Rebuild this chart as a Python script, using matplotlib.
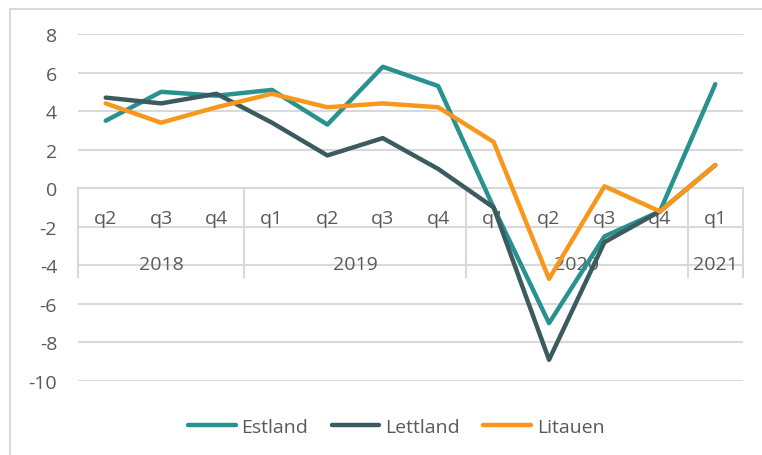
import matplotlib.pyplot as plt
from matplotlib.lines import Line2D

plt.rcParams['font.family'] = ['Open Sans', 'DejaVu Sans']
plt.rcParams['axes.unicode_minus'] = False

# data
quarters = ['q2', 'q3', 'q4', 'q1', 'q2', 'q3', 'q4', 'q1', 'q2', 'q3', 'q4', 'q1']
years = ['2018', '2019', '2020', '2021']
year_spans = [(0, 2), (3, 6), (7, 10), (11, 11)]
estland = [3.5, 5.0, 4.8, 5.1, 3.3, 6.3, 5.3, -1.0, -7.0, -2.5, -1.2, 5.4]
lettland = [4.7, 4.4, 4.9, 3.4, 1.7, 2.6, 1.0, -1.0, -8.9, -2.8, -1.2, 1.2]
litauen = [4.4, 3.4, 4.2, 4.9, 4.2, 4.4, 4.2, 2.4, -4.7, 0.1, -1.2, 1.2]

grid_col = '#d9d9d9'
txt_col = '#595959'
fs = 14

fig = plt.figure(figsize=(7.62, 4.56), dpi=100)
ax = fig.add_axes([78 / 762, 1 - 382 / 456, (743 - 78) / 762, (382 - 35) / 456])

ax.set_xlim(-0.5, len(quarters) - 0.5)
ax.set_ylim(-10, 8)
ax.set_yticks(range(-10, 9, 2))
ax.set_xticks([])
for s in ax.spines.values():
    s.set_visible(False)
ax.tick_params(axis='y', length=0, labelsize=fs, labelcolor=txt_col, pad=15)
ax.grid(axis='y', color=grid_col, lw=1.5)
ax.set_axisbelow(True)

# category axis drawn at zero
ax.axhline(0, color=grid_col, lw=1.5, zorder=1)
for xb in [-0.5, 2.5, 6.5, 10.5, 11.5]:
    ax.plot([xb, xb], [0, -4.6], color=grid_col, lw=1.5, zorder=1, clip_on=False)
for i, q in enumerate(quarters):
    ax.text(i, -1.55, q, ha='center', va='center', fontsize=fs, color=txt_col)
for yr, (a, b) in zip(years, year_spans):
    ax.text((a + b) / 2, -3.93, yr, ha='center', va='center', fontsize=fs, color=txt_col)

x = range(len(quarters))
series = [('Estland', estland, '#2a9191'), ('Lettland', lettland, '#3b5b5f'),
          ('Litauen', litauen, '#f7981d')]
for name, vals, col in series:
    ax.plot(x, vals, color=col, lw=3.2, solid_joinstyle='round', solid_capstyle='round', zorder=3)

handles = [Line2D([], [], color=c, lw=3.2, solid_capstyle='round') for _, _, c in series]
fig.legend(handles, [n for n, _, _ in series], loc='center', bbox_to_anchor=(0.52, 1 - 428 / 456),
           ncol=3, frameon=False, fontsize=fs, handlelength=2.45, handletextpad=0.3,
           columnspacing=1.2, labelcolor=txt_col)

# chart border (top and left visible)
fig.add_artist(Line2D([10 / 762, 10 / 762], [0, 1 - 10 / 456], color=grid_col, lw=1.5))
fig.add_artist(Line2D([10 / 762, 1], [1 - 10 / 456, 1 - 10 / 456], color=grid_col, lw=1.5))

fig.savefig('out.png', dpi=100)
